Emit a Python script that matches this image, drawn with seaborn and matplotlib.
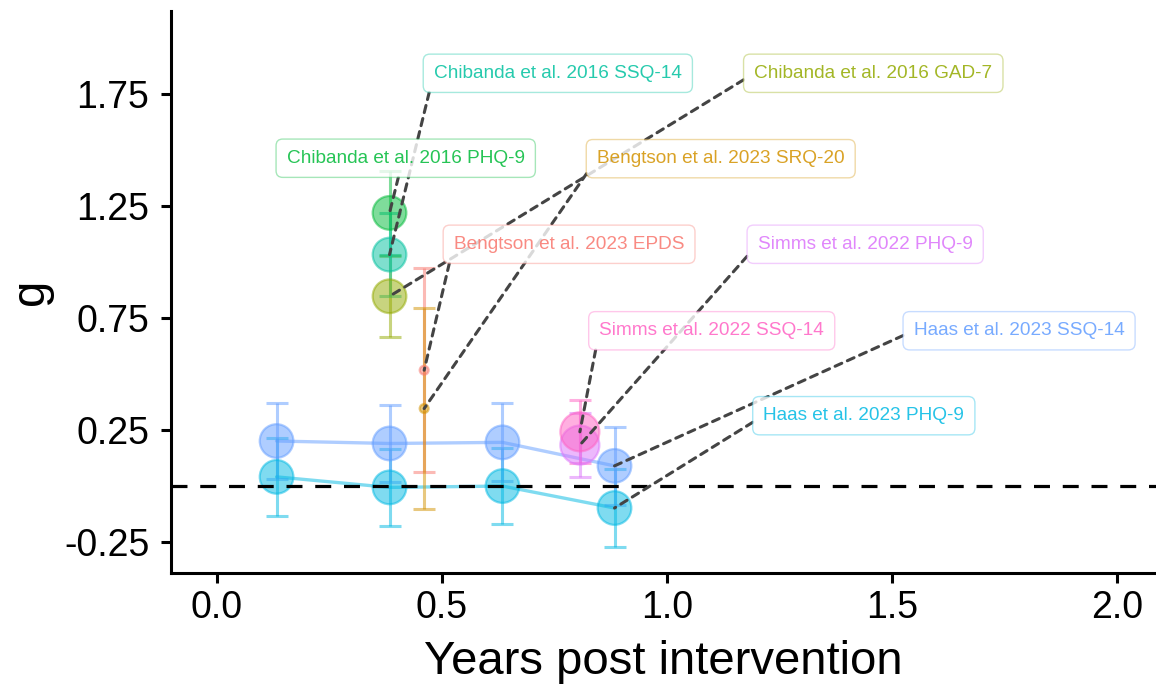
import numpy as np
import pandas as pd
import matplotlib
matplotlib.use("Agg")
import matplotlib.pyplot as plt
import seaborn as sns

# ----------------------------
# Data
# ----------------------------
study_order = ["Bengtson et al. 2023 EPDS", "Bengtson et al. 2023 SRQ-20",
               "Chibanda et al. 2016 GAD-7", "Chibanda et al. 2016 PHQ-9",
               "Chibanda et al. 2016 SSQ-14", "Haas et al. 2023 PHQ-9",
               "Haas et al. 2023 SSQ-14", "Simms et al. 2022 PHQ-9",
               "Simms et al. 2022 SSQ-14"]
study_colors = ["#F8766D", "#D39200", "#93AA00", "#00BA38", "#00C19F",
                "#00B9E3", "#619CFF", "#DB72FB", "#FF61C3"]

obs_study = (["Haas et al. 2023 SSQ-14"] * 4 + ["Haas et al. 2023 PHQ-9"] * 4 +
             ["Chibanda et al. 2016 PHQ-9", "Chibanda et al. 2016 SSQ-14",
              "Chibanda et al. 2016 GAD-7", "Bengtson et al. 2023 EPDS",
              "Bengtson et al. 2023 SRQ-20", "Simms et al. 2022 PHQ-9",
              "Simms et al. 2022 SSQ-14"])
obs_years = [0.133, 0.384, 0.635, 0.884, 0.133, 0.384, 0.635, 0.884,
             0.384, 0.384, 0.384, 0.461, 0.461, 0.807, 0.807]
obs_g = [0.202, 0.191, 0.196, 0.091, 0.042, -0.005, 0.001, -0.097,
         1.220, 1.034, 0.848, 0.518, 0.347, 0.184, 0.243]
obs_ci = [0.171, 0.171, 0.174, 0.174, 0.174, 0.173, 0.170, 0.173,
          0.187, 0.186, 0.181, 0.454, 0.449, 0.141, 0.141]
obs_n = [290, 290, 290, 290, 290, 290, 290, 290,
         290, 290, 290, 20, 20, 390, 390]

# label boxes (ggrepel result), centre of each box
label_study = ["Chibanda et al. 2016 SSQ-14", "Chibanda et al. 2016 GAD-7",
               "Chibanda et al. 2016 PHQ-9", "Bengtson et al. 2023 SRQ-20",
               "Bengtson et al. 2023 EPDS", "Simms et al. 2022 PHQ-9",
               "Simms et al. 2022 SSQ-14", "Haas et al. 2023 SSQ-14",
               "Haas et al. 2023 PHQ-9"]
label_x = [0.758, 1.459, 0.420, 1.120, 0.783, 1.441, 1.100, 1.783, 1.438]
label_y = [1.843, 1.843, 1.464, 1.462, 1.080, 1.080, 0.694, 0.694, 0.315]

x_ticks = [0.0, 0.5, 1.0, 1.5, 2.0]
x_tick_labels = ["0.0", "0.5", "1.0", "1.5", "2.0"]
y_ticks = [-0.25, 0.25, 0.75, 1.25, 1.75]
y_tick_labels = ["-0.25", "0.25", "0.75", "1.25", "1.75"]

df = pd.DataFrame({"study": obs_study, "years": obs_years, "g": obs_g,
                   "ci": obs_ci, "n": obs_n})
palette = dict(zip(study_order, study_colors))

# ----------------------------
# Plot
# ----------------------------
sns.set_style("ticks")
plt.rcParams["font.family"] = ["Liberation Sans", "DejaVu Sans"]

fig = plt.figure(figsize=(11.56, 6.88), dpi=100)
ax = fig.add_axes([171 / 1156, 115 / 688, 985 / 1156, 562 / 688])

haas = df[df["study"].str.startswith("Haas")]
sns.lineplot(data=haas, x="years", y="g", hue="study", palette=palette,
             lw=2.4, alpha=0.5, legend=False, sort=False, ax=ax, zorder=2)

for s, sub in df.groupby("study"):
    ax.errorbar(sub["years"], sub["g"], yerr=sub["ci"], fmt="none",
                ecolor=palette[s], alpha=0.5, elinewidth=2.2, capsize=7.9,
                capthick=2.2, zorder=3)

sns.scatterplot(data=df, x="years", y="g", hue="study", hue_order=study_order,
                palette=palette, size="n", sizes=(1, 810), size_norm=(0, 400),
                alpha=0.5, edgecolor="face", linewidth=1.6, legend=False,
                ax=ax, zorder=4)

ax.axhline(0, color="black", lw=2.3, ls=(0, (5, 4.0)), zorder=5)

# connectors first (under every box), then the boxes
box_style = "round,pad=0.56,rounding_size=0.35"
for s, lx, ly in zip(label_study, label_x, label_y):
    last = df[df["study"] == s].sort_values("years").iloc[-1]
    rel = (0.48, 0.0) if s == "Chibanda et al. 2016 PHQ-9" else (0.0, 0.5)
    ax.annotate(s, xy=(last["years"], last["g"]), xytext=(lx, ly),
                ha="center", va="center", fontsize=13.7, color="none",
                bbox=dict(boxstyle=box_style, fc="none", ec="none"),
                arrowprops=dict(arrowstyle="-", color="#444444", lw=2.2,
                                ls=(0, (2.4, 2.0)), relpos=rel,
                                shrinkA=0, shrinkB=0),
                zorder=6)

for s, lx, ly in zip(label_study, label_x, label_y):
    c = matplotlib.colors.to_rgb(palette[s])
    ax.text(lx, ly, s, ha="center", va="center", fontsize=13.7,
            color=(*c, 0.85),
            bbox=dict(boxstyle=box_style, fc=(1, 1, 1, 0.8),
                      ec=(*c, 0.35), lw=1.0),
            zorder=7)

ax.set_xlim(-0.1016, 2.0873)
ax.set_ylim(-0.387, 2.121)
ax.set_xticks(x_ticks, x_tick_labels)
ax.set_yticks(y_ticks, y_tick_labels)
ax.tick_params(length=7.5, width=2.2, labelsize=27, color="black",
               labelcolor="black")
ax.tick_params(axis="x", pad=4.5)
ax.tick_params(axis="y", pad=8)
sns.despine(ax=ax)
for sp in ["left", "bottom"]:
    ax.spines[sp].set_linewidth(2.2)
    ax.spines[sp].set_color("black")

ax.set_xlabel("Years post intervention", fontsize=34, labelpad=10,
              color="black")
ax.set_ylabel("g", fontsize=34, labelpad=8, color="black")

fig.savefig("out.png", dpi=100)
